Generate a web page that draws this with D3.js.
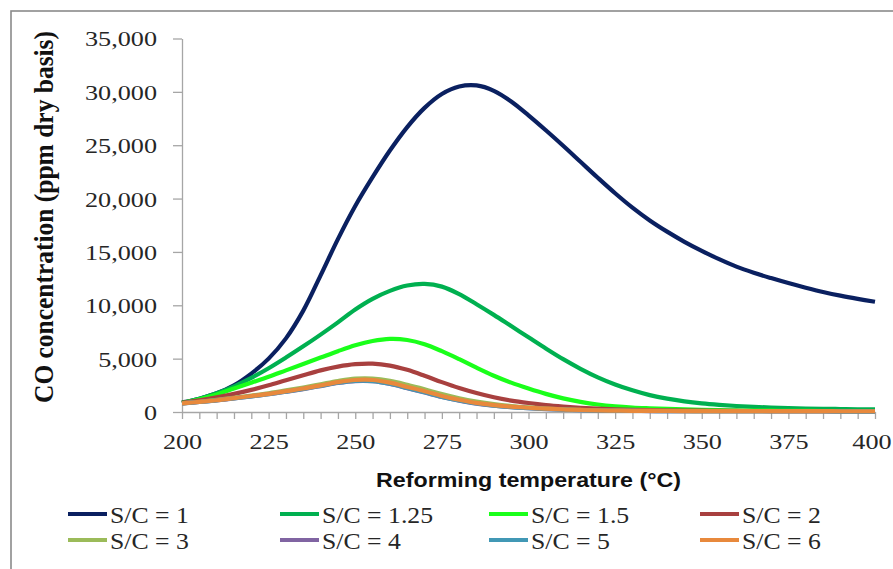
<!DOCTYPE html>
<html>
<head>
<meta charset="utf-8">
<script src="https://cdn.jsdelivr.net/npm/d3@7"></script>
<style>
  html, body { margin: 0; padding: 0; background: #ffffff; }
  svg { display: block; }
</style>
</head>
<body>
<svg id="chart" width="893" height="569"></svg>
<script>
// ---------------- data ----------------
const temps = [200,205,210,215,220,225,230,235,240,245,250,255,260,265,270,275,280,285,290,295,300,
               305,310,315,320,325,330,335,340,345,350,355,360,365,370,375,380,385,390,395,400];

const seriesNames = ["S/C = 1","S/C = 1.25","S/C = 1.5","S/C = 2","S/C = 3","S/C = 4","S/C = 5","S/C = 6"];

const sc1 = [900,1250,1750,2500,3600,5000,6900,9500,12800,16200,19300,22000,24500,26700,28500,29800,30500,30600,30100,29100,27800,
             26400,24950,23450,21950,20500,19150,17950,16900,15950,15100,14320,13620,13050,12550,12080,11650,11250,10900,10600,10330];
const sc125 = [850,1250,1750,2400,3200,4100,5100,6150,7250,8400,9600,10600,11350,11850,12000,11750,11050,10100,9100,8050,7000,
               5950,4950,4050,3250,2580,2030,1580,1250,1000,810,670,560,480,420,370,330,300,280,260,250];
const sc15 = [850,1200,1650,2200,2750,3300,3900,4500,5100,5700,6250,6650,6850,6750,6350,5700,4950,4150,3400,2750,2200,
              1700,1280,950,700,530,420,350,290,240,200,170,150,130,120,110,100,95,90,85,80];
const sc2 = [850,1100,1380,1700,2070,2500,2980,3450,3900,4250,4480,4530,4350,3950,3400,2800,2250,1780,1380,1070,840,
             650,510,400,320,260,210,175,150,130,120,110,100,95,90,85,80,78,75,73,70];
const sc3 = [810,960,1130,1330,1540,1760,2020,2300,2600,2900,3120,3130,2920,2550,2130,1680,1290,980,740,560,430,
             330,260,200,160,135,115,105,98,92,88,85,82,80,78,76,75,74,73,72,70];
const sc4 = [800,940,1080,1270,1460,1660,1900,2150,2430,2720,2900,2880,2620,2220,1820,1400,1060,780,590,450,350,
             270,210,165,130,110,100,90,85,80,78,76,74,72,70,70,68,68,66,66,65];
const sc5 = [800,940,1090,1280,1470,1670,1910,2170,2450,2740,2920,2900,2650,2250,1850,1420,1080,800,600,460,360,
             280,215,170,135,112,100,92,86,82,79,77,75,73,71,70,69,68,67,66,65];
const sc6 = [800,950,1100,1300,1500,1700,1950,2200,2500,2800,3000,3000,2750,2350,1950,1500,1150,850,650,500,400,
             310,240,190,150,130,110,100,95,90,88,85,82,80,78,76,75,74,72,71,70];

const seriesValues = [sc1, sc125, sc15, sc2, sc3, sc4, sc5, sc6];
const seriesColors = ["#0a2060","#00b050","#1aff1a","#a8403f","#9bbb59","#8064a2","#4198b5","#e8893c"];

const xTicks = [200,225,250,275,300,325,350,375,400];
const xMinorTicks = temps;
const yTicks = [0,5000,10000,15000,20000,25000,30000,35000];

const yTitle = "CO concentration (ppm dry basis)";
const xTitle = "Reforming temperature (°C)";

// ---------------- drawing ----------------
const svg = d3.select("#chart");
const W = 893, H = 569;
const serif = '"Liberation Serif", "DejaVu Serif", serif';

// outer frame
svg.append("rect")
  .attr("x", 11).attr("y", 11)
  .attr("width", W + 20).attr("height", H + 20)
  .attr("fill", "none")
  .attr("stroke", "#8a8a8a")
  .attr("stroke-width", 1.6);

const plot = { left: 182, right: 875, top: 38.5, bottom: 412 };

const x = d3.scaleLinear().domain([200, 400]).range([plot.left, plot.right]);
const y = d3.scaleLinear().domain([0, 35000]).range([plot.bottom, plot.top]);

const axisColor = "#a6a6a6";
const stretch = 1.19;

// y axis
const yAxis = svg.append("g")
  .attr("transform", `translate(${plot.left},0)`)
  .call(d3.axisLeft(y).tickValues(yTicks).tickSize(9).tickSizeOuter(0).tickFormat(d3.format(",")));
yAxis.attr("font-family", null);
yAxis.select(".domain").attr("stroke", axisColor).attr("stroke-width", 1.3);
yAxis.selectAll(".tick line").attr("stroke", axisColor).attr("stroke-width", 1.3);
yAxis.selectAll(".tick text")
  .style("font-family", serif)
  .style("font-size", "22px")
  .attr("fill", "#262626")
  .attr("text-anchor", "end")
  .attr("dy", "0.34em")
  .attr("x", -25 / stretch)
  .attr("transform", `scale(${stretch},1)`);

// x axis: minor ticks every 5
const xAxis = svg.append("g")
  .attr("transform", `translate(0,${plot.bottom})`)
  .call(d3.axisBottom(x).tickValues(xMinorTicks).tickSize(7).tickSizeOuter(0)
        .tickFormat(d => xTicks.includes(d) ? String(d) : ""));
xAxis.attr("font-family", null);
xAxis.select(".domain").attr("stroke", axisColor).attr("stroke-width", 1.3);
xAxis.selectAll(".tick line").attr("stroke", axisColor).attr("stroke-width", 1.3);
xAxis.selectAll(".tick text")
  .style("font-family", serif)
  .style("font-size", "22px")
  .attr("fill", "#262626")
  .attr("dy", 0)
  .attr("y", 37)
  .attr("x", d => (d === 400 ? -3 : 0))
  .attr("transform", `scale(${stretch},1)`);

// lines
const line = d3.line()
  .x((d, i) => x(temps[i]))
  .y(d => y(d))
  .curve(d3.curveCatmullRom.alpha(0.5));

seriesValues.forEach((vals, k) => {
  svg.append("path")
    .datum(vals)
    .attr("fill", "none")
    .attr("stroke", seriesColors[k])
    .attr("stroke-width", 4.2)
    .attr("stroke-linejoin", "round")
    .attr("d", line);
});

// axis titles
svg.append("text")
  .attr("transform", `translate(${(plot.left + plot.right) / 2},487)`)
  .attr("text-anchor", "middle")
  .style("font-family", '"Liberation Sans", "DejaVu Sans", sans-serif')
  .style("font-weight", "bold")
  .style("font-size", "21px")
  .attr("fill", "#111")
  .attr("textLength", 305)
  .attr("lengthAdjust", "spacingAndGlyphs")
  .text(xTitle);

svg.append("text")
  .attr("transform", `translate(53,217) rotate(-90) scale(1,1.1)`)
  .attr("text-anchor", "middle")
  .style("font-family", serif)
  .style("font-weight", "bold")
  .style("font-size", "24px")
  .attr("fill", "#111")
  .attr("textLength", 372)
  .attr("lengthAdjust", "spacingAndGlyphs")
  .text(yTitle);

// legend
const legCols = [68, 280, 489, 700];
const legRows = [514, 540];
const legStretch = 1.12;
seriesNames.forEach((name, k) => {
  const cx = legCols[k % 4];
  const cy = legRows[Math.floor(k / 4)];
  const g = svg.append("g").attr("transform", `translate(${cx},${cy})`);
  g.append("line")
    .attr("x1", 0).attr("x2", 39)
    .attr("y1", 0).attr("y2", 0)
    .attr("stroke", seriesColors[k])
    .attr("stroke-width", 4);
  g.append("text")
    .attr("x", 42 / legStretch)
    .attr("y", 8.5)
    .attr("transform", `scale(${legStretch},1)`)
    .style("font-family", serif)
    .style("font-size", "23px")
    .attr("fill", "#262626")
    .text(name);
});
</script>
</body>
</html>
